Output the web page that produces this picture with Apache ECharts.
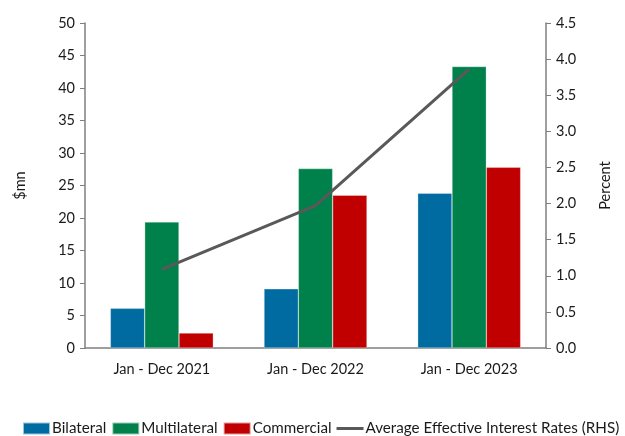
<!DOCTYPE html>
<html>
<head>
<meta charset="utf-8">
<script src="https://cdn.jsdelivr.net/npm/echarts@6/dist/echarts.min.js"></script>
<style>
  html, body { margin: 0; padding: 0; background: #fff; }
  #chart { width: 625px; height: 436px; }
</style>
</head>
<body>
<div id="chart"></div>
<script>
// Financing flows by creditor type ($mn) and average effective interest rate (%)
const categories = ['Jan - Dec 2021', 'Jan - Dec 2022', 'Jan - Dec 2023'];
const bilateral = [6.1, 9.1, 23.8];
const multilateral = [19.4, 27.6, 43.3];
const commercial = [2.3, 23.5, 27.8];
const avgRate = [1.09, 1.97, 3.86];

const FONT = 'Lato, "Open Sans", sans-serif';
const axisGrey = '#7f7f7f';
const textColor = '#1a1a1a';

const chart = echarts.init(document.getElementById('chart'));
const barBorder = 'rgba(255,255,255,0.6)';
// flat line swatch for the rate series legend entry (centred thin bar in a 28x12 box)
const lineIcon = 'path://M0,0L0.01,0L0.01,0.01Z M0,4.5L28,4.5L28,7.5L0,7.5Z M27.99,12L28,12L28,11.99Z';

chart.setOption({
  animation: false,
  textStyle: { fontFamily: FONT },
  grid: { left: 85, right: 79, top: 23, bottom: 88 },
  legend: {
    bottom: 0,
    left: 22,
    width: 603,
    padding: 0,
    itemWidth: 27,
    itemHeight: 12,
    itemGap: 5,
    textStyle: { fontFamily: FONT, fontSize: 15.2, color: textColor, padding: [0, 0, 0, -3] },
    data: [
      { name: 'Bilateral', icon: 'rect' },
      { name: 'Multilateral', icon: 'rect' },
      { name: 'Commercial', icon: 'rect' },
      { name: 'Average Effective Interest Rates (RHS)', icon: lineIcon, itemStyle: { color: '#595959' } }
    ]
  },
  xAxis: {
    type: 'category',
    data: categories,
    axisLine: { lineStyle: { color: axisGrey, width: 1.5 } },
    axisTick: { show: false },
    axisLabel: { color: textColor, fontSize: 14.5, margin: 14, fontFamily: FONT }
  },
  yAxis: [
    {
      type: 'value',
      min: 0, max: 50, interval: 5,
      name: '$mn',
      nameLocation: 'middle',
      nameGap: 57,
      nameRotate: 90,
      nameTextStyle: { color: textColor, fontSize: 14.5, fontFamily: FONT },
      axisLine: { show: true, lineStyle: { color: axisGrey, width: 1.5 } },
      axisTick: { show: true, length: 5, lineStyle: { color: axisGrey } },
      axisLabel: { color: textColor, fontSize: 14.5, margin: 10, fontFamily: FONT },
      splitLine: { show: false }
    },
    {
      type: 'value',
      min: 0, max: 4.5, interval: 0.5,
      name: 'Percent',
      nameLocation: 'middle',
      nameGap: 52,
      nameRotate: 90,
      nameTextStyle: { color: textColor, fontSize: 14.5, fontFamily: FONT },
      axisLine: { show: true, lineStyle: { color: axisGrey, width: 1.5 } },
      axisTick: { show: true, length: 5, lineStyle: { color: axisGrey } },
      axisLabel: {
        color: textColor, fontSize: 14.5, margin: 10, fontFamily: FONT,
        formatter: v => v.toFixed(1)
      },
      splitLine: { show: false }
    }
  ],
  series: [
    {
      name: 'Bilateral', type: 'bar', data: bilateral,
      barGap: '0%', barCategoryGap: '33%',
      itemStyle: { color: '#006ba1', borderColor: barBorder, borderWidth: 0.5 }
    },
    {
      name: 'Multilateral', type: 'bar', data: multilateral,
      itemStyle: { color: '#00804a', borderColor: barBorder, borderWidth: 0.5 }
    },
    {
      name: 'Commercial', type: 'bar', data: commercial,
      itemStyle: { color: '#c00000', borderColor: barBorder, borderWidth: 0.5 }
    },
    {
      name: 'Average Effective Interest Rates (RHS)', type: 'line',
      yAxisIndex: 1, data: avgRate,
      symbol: 'none',
      lineStyle: { color: '#595959', width: 3 },
      itemStyle: { color: '#595959' },
      z: 5
    }
  ]
});
</script>
</body>
</html>
